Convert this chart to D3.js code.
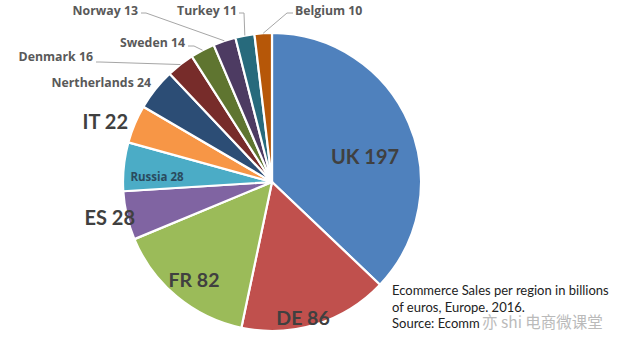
<!DOCTYPE html>
<html><head><meta charset="utf-8">
<script src="https://cdn.jsdelivr.net/npm/d3@7"></script>
<style>body{margin:0;background:#fff}svg{display:block}</style>
</head><body>
<svg id="c" width="640" height="353"></svg>
<script>
const categories = ["UK","DE","FR","ES","Russia","IT","Nertherlands","Denmark","Sweden","Norway","Turkey","Belgium"];
const values = [197,86,82,28,28,22,24,16,14,13,11,10];
const colors = ["#4F81BD","#C0504D","#9BBB59","#8064A2","#4BACC6","#F79646","#2C4D75","#772C2A","#5F7530","#4D3B62","#276A7C","#B65708"];
const captionLines = ["Ecommerce Sales per region in billions","of euros, Europe. 2016.","Source: Ecomm"];

// layout (label anchor positions, sizes)
const small = {size:12.3,fill:"#595959",weight:700,font:"'Open Sans', sans-serif"};
const big = {fill:"#404040",weight:700,font:"Lato, sans-serif"};
const layout = {
  "UK":          Object.assign({x:365,y:157,size:20,anchor:"middle"},big),
  "DE":          Object.assign({x:303,y:318,size:19.5,anchor:"middle"},big),
  "FR":          Object.assign({x:194,y:280,size:19.5,anchor:"middle"},big),
  "ES":          Object.assign({x:135,y:218,size:20,anchor:"end"},big),
  "Russia":      {x:157,y:177,size:11.5,anchor:"middle",fill:"#2A4B5E",weight:700,font:"'Open Sans', sans-serif"},
  "IT":          Object.assign({x:128,y:122,size:20,anchor:"end"},big),
  "Nertherlands":Object.assign({x:151,y:83,anchor:"end"},small),
  "Denmark":     Object.assign({x:93,y:57,anchor:"end",line:[[96,62],[100,62]]},small),
  "Sweden":      Object.assign({x:185,y:43,anchor:"end",line:[[188,46],[194,46]]},small),
  "Norway":      Object.assign({x:138,y:11,anchor:"end",line:[[141,13],[146,13]]},small),
  "Turkey":      Object.assign({x:237,y:11,anchor:"end",line:[[239,13],[244,13]]},small),
  "Belgium":     Object.assign({x:295,y:11,anchor:"start",line:[[293,13],[287,13]]},small)
};

const svg = d3.select("#c");
const cx = 272, cy = 182, r = 149;
const g = svg.append("g").attr("transform",`translate(${cx},${cy})`);
const data = categories.map((c,i)=>({name:c,value:values[i],color:colors[i]}));
const pie = d3.pie().value(d=>d.value).sort(null);
const arcs = pie(data);
const arc = d3.arc().innerRadius(0).outerRadius(r);
const edge = d3.arc().innerRadius(r).outerRadius(r);

g.selectAll("path.slice").data(arcs).join("path")
  .attr("class","slice")
  .attr("d",arc)
  .attr("fill",d=>d.data.color)
  .attr("stroke","#fff").attr("stroke-width",2.2).attr("stroke-linejoin","round");

// leader lines
arcs.forEach(a=>{
  const L = layout[a.data.name];
  if(!L.line) return;
  const [ex,ey] = edge.centroid(a);
  const pts = L.line.concat([[cx+ex,cy+ey]]);
  svg.append("path").attr("d",d3.line()(pts)).attr("fill","none")
    .attr("stroke","#A6A6A6").attr("stroke-width",1);
});

// labels
arcs.forEach(a=>{
  const L = layout[a.data.name];
  svg.append("text").attr("x",L.x).attr("y",L.y).attr("dy","0.35em")
    .attr("text-anchor",L.anchor)
    .attr("font-family",L.font)
    .attr("font-weight",L.weight).attr("font-size",L.size).attr("fill",L.fill)
    .text(a.data.name+" "+a.data.value);
});

// caption
captionLines.forEach((t,i)=>{
  svg.append("text").attr("x",392).attr("y",295+i*16.5)
    .attr("font-family","Lato, sans-serif").attr("font-size",13).attr("fill","#222")
    .text(t);
});
// watermark
svg.append("text").attr("x",482).attr("y",328)
  .attr("font-family","'Noto Sans CJK SC', sans-serif").attr("font-size",15.5)
  .attr("fill","#aaa").attr("opacity",0.8).text("亦 shi 电商微课堂");
</script>
</body></html>
